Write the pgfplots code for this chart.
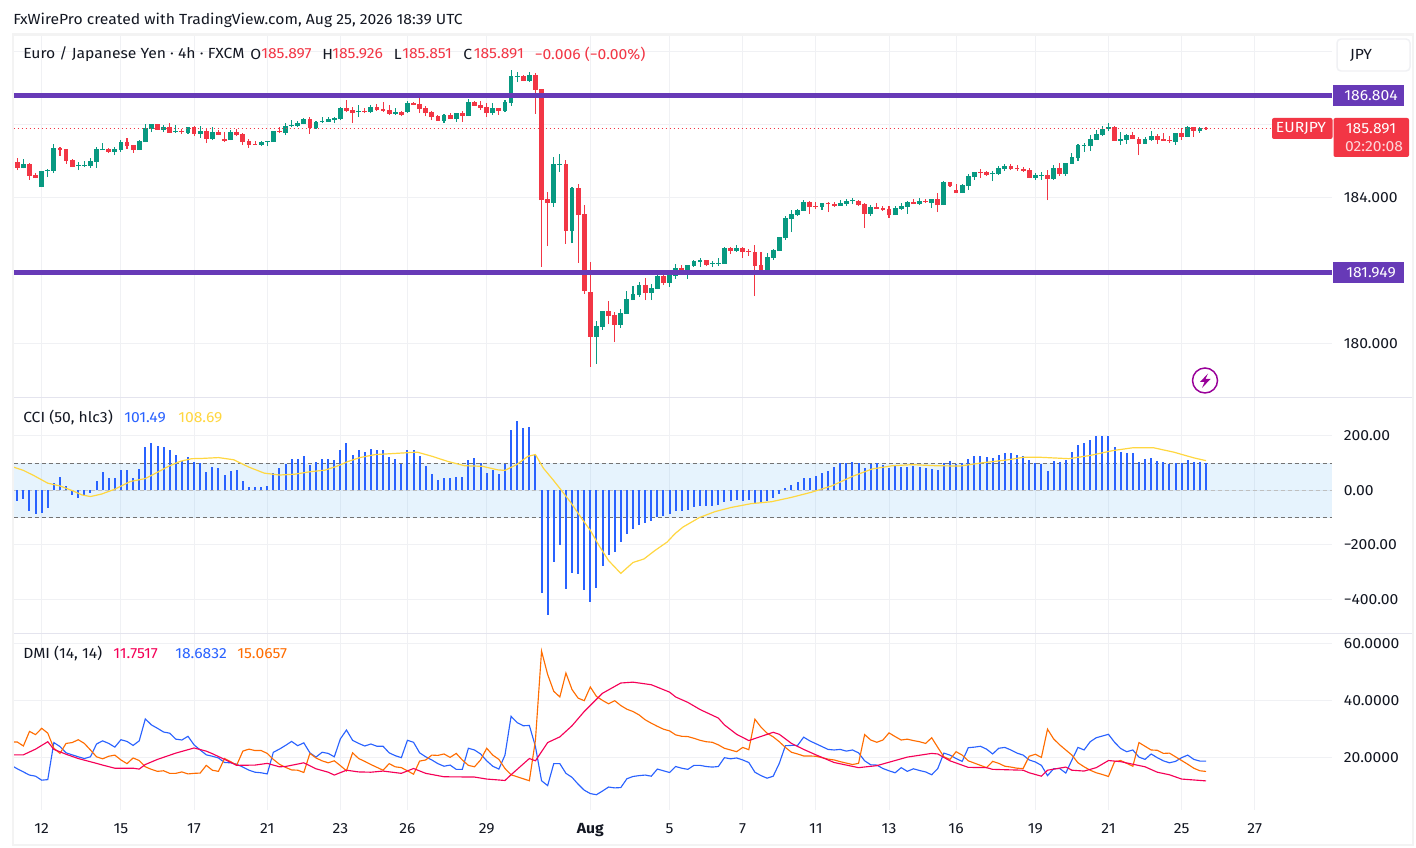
\documentclass[border=0pt]{standalone}
\usepackage{pgfplots}
\usepackage{pgfplotstable}
\usepackage{fontspec}
\pgfplotsset{compat=1.18}
\setmainfont[FakeStretch=1.07]{Fira Sans}
\definecolor{cgreen}{HTML}{089981}
\definecolor{cred}{HTML}{F23645}
\definecolor{cblue}{HTML}{2962FF}
\definecolor{cyel}{HTML}{FFD740}
\definecolor{cpink}{HTML}{F50057}
\definecolor{corange}{HTML}{FF6D00}
\definecolor{cpurple}{HTML}{673AB7}
\definecolor{cgrid}{HTML}{F0F1F4}
\definecolor{csep}{HTML}{E4E4EE}
\definecolor{ctext}{HTML}{131722}
\definecolor{cframe}{HTML}{F3F3F3}
\definecolor{cband}{HTML}{2196F3}
% columns: bar index, low, body low, body high, high
\pgfplotstableread{
i l b t h
1 184.80 184.81 184.92 185.06
4 184.29 184.29 184.73 184.73
5 184.56 184.73 184.76 184.78
6 184.67 184.73 185.36 185.47
10 184.75 184.86 184.89 184.97
11 184.83 184.86 184.89 185.00
12 184.81 184.86 185.00 185.08
13 184.81 184.97 185.33 185.38
14 185.30 185.30 185.33 185.49
16 185.16 185.25 185.33 185.38
17 185.25 185.30 185.52 185.57
20 185.30 185.30 185.55 185.57
21 185.52 185.52 185.90 186.01
22 185.79 185.88 186.01 186.01
24 185.79 185.85 185.93 185.99
26 185.77 185.79 185.82 185.99
28 185.74 185.77 185.93 185.93
30 185.63 185.74 185.82 185.96
32 185.57 185.60 185.79 185.93
35 185.57 185.57 185.79 185.85
40 185.41 185.44 185.52 185.55
41 185.41 185.52 185.55 185.55
42 185.52 185.52 185.82 185.82
44 185.71 185.77 185.96 186.04
45 185.93 185.96 185.99 186.12
46 185.93 185.96 186.04 186.10
47 186.01 186.01 186.15 186.18
49 185.88 185.90 186.07 186.10
50 186.04 186.07 186.10 186.20
51 186.07 186.07 186.15 186.20
52 186.04 186.12 186.18 186.20
53 186.12 186.15 186.45 186.48
56 186.20 186.34 186.37 186.53
58 186.31 186.34 186.48 186.53
62 186.26 186.29 186.34 186.45
64 186.31 186.34 186.59 186.64
70 186.04 186.10 186.26 186.29
72 186.07 186.15 186.31 186.31
74 186.23 186.23 186.62 186.70
78 186.26 186.31 186.45 186.59
80 186.34 186.37 186.62 186.67
81 186.51 186.59 187.33 187.49
82 187.16 187.30 187.33 187.44
84 187.16 187.19 187.36 187.44
88 183.74 183.85 184.92 185.11
89 184.70 184.89 184.92 185.19
91 182.75 183.08 184.26 184.29
95 179.44 180.18 180.48 180.62
96 180.37 180.45 180.89 180.89
99 180.42 180.51 180.84 180.95
100 180.81 180.81 181.22 181.44
101 181.19 181.19 181.36 181.58
102 181.27 181.33 181.60 181.69
104 181.19 181.38 181.52 181.63
105 181.49 181.49 181.85 181.88
107 181.55 181.66 181.93 182.01
108 181.77 181.85 182.07 182.18
110 181.77 181.88 182.15 182.15
111 182.10 182.12 182.26 182.29
112 182.10 182.23 182.29 182.34
114 182.10 182.18 182.21 182.26
115 182.12 182.18 182.21 182.34
116 182.18 182.18 182.62 182.64
118 182.51 182.53 182.62 182.70
123 181.92 181.96 182.37 182.48
124 182.29 182.34 182.56 182.59
125 182.53 182.53 182.92 182.92
126 182.84 182.89 183.44 183.49
127 183.05 183.41 183.55 183.66
128 183.49 183.52 183.66 183.69
129 183.63 183.63 183.88 183.93
132 183.66 183.74 183.85 183.85
135 183.77 183.77 183.85 183.93
136 183.77 183.82 183.90 183.96
137 183.82 183.90 183.93 183.99
140 183.49 183.55 183.74 183.79
144 183.52 183.52 183.71 183.77
145 183.66 183.69 183.77 183.85
146 183.55 183.74 183.88 183.90
148 183.79 183.82 183.90 183.99
150 183.71 183.85 183.96 183.96
152 183.79 183.79 184.42 184.45
155 184.12 184.12 184.34 184.37
156 184.21 184.31 184.59 184.64
157 184.48 184.56 184.70 184.70
160 184.45 184.64 184.67 184.73
161 184.62 184.64 184.81 184.86
162 184.73 184.78 184.86 184.92
167 184.48 184.53 184.62 184.67
168 184.48 184.59 184.62 184.70
170 184.48 184.51 184.81 184.89
172 184.59 184.64 184.94 184.94
173 184.92 184.92 185.11 185.22
174 185.00 185.08 185.44 185.47
175 185.25 185.41 185.44 185.49
176 185.27 185.41 185.60 185.71
177 185.58 185.58 185.74 185.85
178 185.68 185.71 185.88 185.96
179 185.82 185.88 185.93 186.04
181 185.44 185.55 185.60 185.79
182 185.47 185.58 185.71 185.74
185 185.47 185.47 185.60 185.66
186 185.55 185.58 185.68 185.82
190 185.44 185.52 185.77 185.77
192 185.66 185.66 185.93 185.96
194 185.77 185.82 185.90 185.93
}\greenT
\pgfplotstableread{
i l b t h
0 184.75 184.81 184.97 185.07
2 184.48 184.59 184.92 184.94
3 184.53 184.53 184.62 184.67
7 185.14 185.30 185.36 185.38
8 184.92 185.00 185.33 185.33
9 184.83 184.83 185.03 185.06
15 185.22 185.25 185.33 185.36
18 185.33 185.41 185.52 185.63
19 185.22 185.30 185.44 185.44
23 185.85 185.85 186.01 186.01
25 185.77 185.77 185.93 186.04
27 185.74 185.79 185.82 185.88
29 185.68 185.74 185.93 185.96
31 185.49 185.60 185.82 185.88
33 185.71 185.71 185.79 185.85
34 185.52 185.55 185.60 185.79
36 185.68 185.71 185.79 185.88
37 185.44 185.52 185.74 185.77
38 185.36 185.44 185.55 185.60
39 185.44 185.44 185.47 185.55
43 185.77 185.79 185.82 185.93
48 185.74 185.90 186.15 186.20
54 186.34 186.37 186.45 186.67
55 186.04 186.31 186.40 186.48
57 186.31 186.34 186.37 186.45
59 186.37 186.40 186.48 186.56
60 186.34 186.37 186.42 186.62
61 186.26 186.29 186.40 186.53
63 186.23 186.26 186.34 186.37
65 186.53 186.53 186.59 186.62
66 186.31 186.42 186.56 186.73
67 186.23 186.31 186.45 186.51
68 186.12 186.20 186.34 186.37
69 186.10 186.10 186.23 186.26
71 186.15 186.15 186.26 186.31
73 186.07 186.23 186.31 186.37
75 186.51 186.51 186.62 186.64
76 186.40 186.45 186.53 186.64
77 186.20 186.31 186.48 186.59
79 186.26 186.37 186.45 186.45
83 187.19 187.19 187.33 187.36
85 186.29 186.95 187.36 187.41
86 182.10 183.93 186.97 186.97
87 182.67 183.85 183.96 184.15
90 182.73 183.08 184.92 185.03
92 182.21 183.52 184.26 184.37
93 181.36 181.44 183.55 183.79
94 179.36 180.18 181.41 182.23
97 180.53 180.75 180.89 181.17
98 180.04 180.51 180.78 180.86
103 181.19 181.38 181.60 181.79
106 181.60 181.66 181.85 181.88
109 181.88 181.96 182.07 182.15
113 182.12 182.15 182.29 182.29
117 182.45 182.53 182.62 182.64
119 182.34 182.51 182.62 182.64
120 182.40 182.51 182.53 182.59
121 181.30 182.12 182.51 182.70
122 181.92 181.92 182.15 182.51
130 183.55 183.74 183.88 183.90
131 183.69 183.74 183.77 183.88
133 183.60 183.82 183.85 183.88
134 183.74 183.77 183.82 183.88
138 183.77 183.79 183.90 183.93
139 183.17 183.55 183.82 183.85
141 183.69 183.69 183.74 183.85
142 183.63 183.66 183.71 183.77
143 183.44 183.52 183.69 183.77
147 183.82 183.82 183.88 183.96
149 183.85 183.88 183.90 183.96
151 183.60 183.79 183.96 184.12
153 184.29 184.31 184.42 184.42
154 184.12 184.12 184.21 184.37
158 184.53 184.67 184.70 184.78
159 184.59 184.62 184.70 184.73
163 184.75 184.78 184.86 184.92
164 184.73 184.78 184.81 184.89
165 184.70 184.73 184.78 184.83
166 184.53 184.53 184.75 184.81
169 183.93 184.51 184.62 184.75
171 184.59 184.64 184.81 184.94
180 185.55 185.55 185.93 185.96
183 185.60 185.60 185.71 185.79
184 185.16 185.47 185.60 185.66
187 185.47 185.58 185.68 185.74
188 185.55 185.55 185.60 185.77
189 185.49 185.55 185.58 185.68
191 185.58 185.66 185.77 185.90
193 185.66 185.82 185.93 185.93
195 185.851 185.885 185.897 185.926
}\redT
\pgfplotsset{
  tvpane/.style={
    scale only axis, width=988.875pt, xmin=-0.623, xmax=215.67,
    xmajorgrids, ymajorgrids, grid style={cgrid, line width=0.75pt},
    axis line style={draw=none}, tick style={draw=none},
    xtick={4,17,29,41,53,64,77,94,107,119,131,143,154,167,179,191,203},
    xticklabels={},
    yticklabel pos=right,
    yticklabel style={anchor=west, font=\fontsize{11pt}{12pt}\selectfont, text=ctext, xshift=5.4pt},
    /pgf/number format/assume math mode=true,
    anchor=south west, clip=true,
  },
  wick/.style={draw=none, mark=none, forget plot, error bars/.cd, y dir=plus, y explicit, error mark=none, error bar style={draw=#1, line width=0.8pt}},
  body/.style={draw=none, mark=none, forget plot, error bars/.cd, y dir=plus, y explicit, error mark=none, error bar style={draw=#1, line width=3.6pt}},
}
\begin{document}
\begin{tikzpicture}
\path[use as bounding box, fill=white] (0,0) rectangle (1062pt,636pt);
% ---------- price pane
\begin{axis}[tvpane, at={(10.125pt,338.25pt)}, height=271.5pt,
  ymin=178.534, ymax=188.452,
  ytick={180,182,184,186,188}, yticklabels={180.000,,184.000,,}]
\addplot[wick=cgreen] table[x=i, y=l, y error plus expr=\thisrow{h}-\thisrow{l}] {\greenT};
\addplot[wick=cred] table[x=i, y=l, y error plus expr=\thisrow{h}-\thisrow{l}] {\redT};
\addplot[body=cgreen] table[x=i, y=b, y error plus expr=\thisrow{t}-\thisrow{b}] {\greenT};
\addplot[body=cred] table[x=i, y=b, y error plus expr=\thisrow{t}-\thisrow{b}] {\redT};
\addplot[cred, line width=0.75pt, dash pattern=on 0.75pt off 2.25pt, forget plot] coordinates {(-0.623,185.891) (205.7,185.891)};
\addplot[cpurple, line width=3.75pt, forget plot] coordinates {(-0.623,186.804) (215.67,186.804)};
\addplot[cpurple, line width=3.75pt, forget plot] coordinates {(-0.623,181.949) (215.67,181.949)};
\end{axis}
% ---------- CCI pane
\begin{axis}[tvpane, at={(10.125pt,161.25pt)}, height=176.25pt,
  ymin=-523.7, ymax=338.7,
  ytick={-400,-200,0,200}, yticklabels={−400.00,−200.00,0.00,200.00}]
\addplot[fill=cband, fill opacity=0.11, draw=none, forget plot] coordinates {(-0.623,-100) (215.67,-100) (215.67,100) (-0.623,100)} -- cycle;
\addplot[color=black!55, line width=0.75pt, dash pattern=on 3pt off 2.25pt, forget plot] coordinates {(-0.623,100) (215.67,100)};
\addplot[color=black!55, line width=0.75pt, dash pattern=on 3pt off 2.25pt, forget plot] coordinates {(-0.623,-100) (215.67,-100)};
\addplot[color=black!25, line width=0.75pt, dash pattern=on 3pt off 2.25pt, forget plot] coordinates {(-0.623,0) (215.67,0)};
\addplot[ycomb, cblue, line width=1.5pt, mark=none, forget plot] coordinates {
(0,-38)(1,-32)(2,-77)(3,-88)(4,-84)(5,-65)(6,27)(7,49)(8,16)(9,-17)(10,-28)(11,-17)(12,-10)(13,35)(14,68)(15,46)(16,46)(17,75)(18,75)(19,46)
(20,79)(21,157)(22,175)(23,164)(24,157)(25,146)(26,131)(27,109)(28,123)(29,105)(30,101)(31,68)(32,86)(33,83)(34,57)(35,72)(36,75)(37,35)(38,12)(39,12)
(40,12)(41,16)(42,64)(43,83)(44,98)(45,116)(46,116)(47,127)(48,94)(49,105)(50,116)(51,116)(52,112)(53,149)(54,172)(55,131)(56,146)(57,142)(58,153)(59,149)
(60,149)(61,123)(62,116)(63,98)(64,146)(65,149)(66,127)(67,90)(68,60)(69,38)(70,46)(71,46)(72,49)(73,49)(74,112)(75,120)(76,101)(77,64)(78,75)(79,60)
(80,98)(81,223)(82,253)(83,227)(84,231)(85,131)(86,-377)(87,-458)(88,-265)(89,-199)(90,-362)(91,-302)(92,-306)(93,-365)(94,-410)(95,-358)
(96,-277)(97,-236)(98,-225)(99,-191)(100,-162)(101,-143)(102,-128)(103,-121)(104,-114)(105,-99)(106,-95)(107,-88)(108,-77)(109,-77)(110,-73)(111,-62)(112,-58)(113,-58)(114,-58)(115,-54)
(116,-43)(117,-40)(118,-36)(119,-40)(120,-36)(121,-47)(122,-43)(123,-40)(124,-28)(125,-14)(126,9)(127,20)(128,31)(129,46)(130,46)(131,53)(132,64)(133,72)(134,86)(135,101)
(136,101)(137,105)(138,101)(139,83)(140,98)(141,101)(142,94)(143,83)(144,90)(145,86)(146,86)(147,90)(148,86)(149,83)(150,79)(151,75)(152,101)(153,109)(154,98)(155,101)
(156,116)(157,127)(158,127)(159,123)(160,120)(161,131)(162,138)(163,135)(164,131)(165,127)(166,112)(167,101)(168,98)(169,72)(170,109)(171,105)(172,112)(173,142)(174,168)(175,172)
(176,183)(177,198)(178,198)(179,198)(180,157)(181,142)(182,138)(183,135)(184,105)(185,116)(186,120)(187,109)(188,105)(189,98)(190,101)(191,101)(192,112)(193,105)(194,105)(195,101.49)
};
\addplot[cyel, line width=0.9pt, forget plot] coordinates {
(-0.6,85)(1,73)(2.8,53)(5,26)(7,16)(9,-1)(10.6,-17)(12,-23)(13.8,-14)(16,4)(18.5,32)(21,43)(22.9,65)(24.8,88)(26.7,106)(28.6,116)(30.4,117)(33,120)(35.5,112)(38,85)(40.5,63)(43,56)(45.5,59)(48,68)(50.5,74)(52.4,88)(54.3,106)(56.2,120)(58.7,131)(61.8,135)(65.6,140)(68,125)(70.6,106)(73.4,90)(76.3,88)(78.8,75)(80,73)(81.9,94)(83.8,125)(85,131)(86.3,81)(87.9,38)(89,7)(90.7,-42)(92.6,-104)(94,-147)(95.4,-202)(97,-258)(99,-305)(101,-265)(102.8,-252)(104.6,-221)(106.6,-190)(107.9,-159)(109.2,-135)(111.9,-100)(114.5,-78)(117.1,-63)(120.4,-49)(123.7,-42)(127,-26)(130.3,-7)(133.6,16)(137,51)(140.2,78)(143.5,90)(146.8,94)(150.8,90)(154.7,89)(158,100)(162.6,112)(165,121)(167.9,121)(172.5,116)(175.8,127)(179.8,146)(183,156)(186.4,156)(189.7,140)(193,119)(195,108.69)
};
\end{axis}
% ---------- DMI pane
\begin{axis}[tvpane, at={(10.125pt,28.5pt)}, height=132pt,
  ymin=1.54, ymax=63.3,
  ytick={20,40,60}, yticklabels={20.0000,40.0000,60.0000},
  xticklabels={12,15,17,21,23,26,29,\textbf{Aug},5,7,11,13,16,19,21,25,27},
  xticklabel style={font=\fontsize{11pt}{12pt}\selectfont, text=ctext, yshift=-6.5pt}]
\addplot[cblue, line width=0.85pt, forget plot] coordinates {
(-1,17.2)(0,16.0)(1,14.9)(2,13.8)(3,13.4)(4,12.0)(5,12.2)(6,25.2)(7,23.8)(8,21.6)(10,20.2)(11,19.6)(12,20.2)(13,24.7)(14,25.8)(15,24.9)(16,23.6)(17,26.2)(18,25.6)(19,24.2)(20,25.8)(21,33.5)(22,31.4)(23,30.2)(24,28.9)(25,28.5)(26,26.4)(27,26.1)(28,27.4)(29,24.4)(30,22.6)(31,20.9)(32,20.4)(33,19.8)(34,18.2)(35,18.1)(36,17.6)(37,16.6)(38,15.5)(39,14.8)(40,14.6)(41,14.2)(42,21.8)(43,22.9)(44,24.2)(45,25.6)(46,24.1)(47,25.1)(48,21.6)(49,20.1)(50,21.8)(51,21.4)(52,20.2)(53,26.5)(54,29.6)(55,26.0)(56,24.9)(57,24.0)(58,24.7)(59,23.9)(60,23.9)(61,21.6)(62,20.6)(63,19.9)(64,26.0)(65,25.3)(66,21.6)(67,20.2)(68,19.1)(69,17.8)(70,16.9)(71,17.3)(72,15.8)(73,15.8)(74,23.2)(75,22.6)(76,21.2)(77,18.8)(78,16.9)(79,15.9)(80,20.8)(81,34.4)(82,32.2)(83,31.1)(84,31.2)(85,23.8)(86,11.8)(87,10.1)(88,17.8)(89,17.8)(90,14.4)(91,13.0)(92,10.6)(93,8.5)(94,7.3)(95,6.9)(96,8.2)(97,9.6)(98,9.3)(99,9.4)(100,12.5)(101,13.3)(102,13.6)(103,13.8)(104,13.4)(105,15.9)(106,15.3)(107,14.7)(108,16.8)(109,16.2)(110,15.8)(111,17.2)(112,17.2)(113,16.8)(114,16.6)(115,16.8)(116,19.9)(117,19.5)(118,19.8)(119,19.1)(120,18.2)(121,14.8)(122,13.6)(123,12.7)(124,13.4)(125,17.9)(126,24.1)(127,24.2)(128,24.2)(129,27.1)(130,25.8)(131,24.8)(132,23.8)(133,22.8)(134,22.6)(135,22.8)(136,22.2)(137,22.6)(138,21.6)(139,18.8)(140,17.4)(141,17.3)(142,16.1)(143,15.3)(144,14.6)(145,16.4)(146,15.1)(147,16.0)(148,15.4)(149,14.9)(150,13.9)(151,16.1)(152,21.5)(153,20.8)(154,19.6)(155,18.6)(156,23.4)(157,23.6)(158,23.9)(159,22.9)(160,21.2)(161,23.2)(162,23.5)(163,22.6)(164,21.5)(165,20.8)(166,19.1)(167,18.4)(168,17.2)(169,13.6)(170,16.0)(171,16.1)(172,14.5)(173,19.1)(174,23.5)(175,22.6)(176,25.5)(177,26.9)(178,27.5)(179,28.1)(180,25.3)(181,23.1)(182,22.0)(183,22.6)(184,20.1)(185,19.3)(186,21.2)(187,19.9)(188,18.8)(189,18.1)(190,18.6)(191,19.9)(192,20.8)(193,19.3)(194,18.7)(195,18.68)
};
\addplot[corange, line width=0.85pt, forget plot] coordinates {
(-1,25.4)(0,25.4)(1,24.0)(2,29.1)(3,28.0)(4,30.2)(5,28.5)(6,23.2)(7,21.4)(8,24.9)(9,25.2)(10,26.2)(11,24.9)(12,22.6)(13,20.2)(14,19.5)(15,20.4)(16,20.8)(17,19.1)(18,17.8)(19,19.8)(20,18.9)(21,16.7)(22,15.8)(23,15.1)(24,15.3)(25,14.4)(26,14.4)(27,14.9)(28,14.2)(29,14.4)(30,14.5)(31,17.2)(32,15.5)(33,15.1)(34,19.6)(35,18.5)(36,17.3)(37,22.2)(38,22.9)(39,22.4)(40,22.4)(41,21.4)(42,19.3)(43,17.6)(44,16.5)(45,15.6)(46,15.5)(47,14.7)(48,21.4)(49,19.8)(50,18.8)(51,18.1)(52,18.8)(53,17.1)(54,15.3)(55,21.6)(56,19.6)(57,18.6)(58,17.5)(59,16.5)(60,15.5)(61,17.8)(62,16.7)(63,16.4)(64,15.3)(65,14.1)(66,18.7)(67,19.1)(68,20.8)(69,20.7)(70,21.2)(71,20.0)(72,21.4)(73,19.1)(74,17.2)(75,16.7)(76,19.1)(77,23.2)(78,20.8)(79,19.3)(80,16.1)(81,13.9)(82,13.2)(83,12.5)(84,11.8)(85,26.1)(86,57.3)(87,49.1)(88,43.2)(89,41.2)(90,49.6)(91,43.8)(92,40.8)(93,39.9)(94,44.7)(95,41.4)(96,40.0)(97,38.8)(98,39.9)(99,38.2)(100,36.9)(101,36.1)(102,34.9)(103,33.2)(104,32.0)(105,30.9)(106,29.9)(107,29.3)(108,27.9)(109,27.4)(110,27.3)(111,26.7)(112,26.0)(113,25.5)(114,25.3)(115,24.4)(116,23.2)(117,22.6)(118,22.0)(119,23.5)(120,22.7)(121,33.4)(122,30.6)(123,28.5)(124,27.2)(125,25.5)(126,23.5)(127,21.8)(128,21.2)(129,20.5)(130,20.5)(131,20.4)(132,19.9)(133,19.4)(134,19.1)(135,18.5)(136,18.0)(137,17.5)(138,17.9)(139,28.0)(140,26.1)(141,25.3)(142,26.1)(143,28.6)(144,27.3)(145,26.1)(146,26.4)(147,25.9)(148,25.5)(149,24.9)(150,26.9)(151,23.5)(152,20.2)(153,19.3)(154,22.0)(155,20.8)(156,18.8)(157,18.0)(158,17.2)(159,16.4)(160,18.6)(161,17.9)(162,16.9)(163,16.6)(164,16.2)(165,16.1)(166,20.4)(167,21.1)(168,20.0)(169,29.9)(170,26.5)(171,24.4)(172,22.6)(173,20.8)(174,18.1)(175,16.7)(176,15.5)(177,14.6)(178,14.0)(179,13.3)(180,18.5)(181,18.9)(182,17.9)(183,16.9)(184,25.2)(185,23.9)(186,22.6)(187,22.5)(188,21.4)(189,21.5)(190,20.2)(191,18.9)(192,17.6)(193,16.2)(194,15.3)(195,15.07)
};
\addplot[cpink, line width=0.85pt, forget plot] coordinates {
(-1,20.9)(1,20.9)(3,22.9)(5,25.5)(6,22.8)(8,21.1)(10,19.6)(13,17.9)(14,17.3)(16,16.2)(19,16.2)(20,15.9)(21,17.5)(23,19.3)(26,21.5)(28,22.7)(29,23.3)(31,22.2)(32,21.3)(34,19.3)(36,17.2)(39,17.3)(41,17.9)(43,16.7)(44,16.8)(47,18.1)(49,16.0)(51,14.8)(52,13.8)(54,15.5)(56,14.9)(58,14.8)(60,15.2)(63,14.4)(65,16.1)(67,14.4)(70,13.2)(75,13.1)(77,12.4)(80,11.9)(81,13.9)(84,19.6)(85,18.8)(87,25.2)(89,27.2)(91,31.1)(93,36.1)(96,42.5)(99,46.1)(101,46.4)(104,45.5)(107,42.9)(108,41.2)(110,39.3)(112,36.8)(115,33.8)(116,31.4)(118,28.1)(120,25.9)(124,28.8)(125,28.1)(127,24.9)(129,22.8)(131,20.9)(134,18.2)(138,16.4)(141,17.1)(144,18.9)(146,20.1)(150,21.4)(151,21.2)(153,18.8)(156,16.5)(159,16.4)(160,15.8)(165,15.5)(166,14.6)(168,13.4)(169,15.5)(172,16.6)(173,15.5)(175,15.2)(177,16.4)(179,18.9)(181,18.5)(185,16.7)(187,14.8)(189,13.9)(191,12.4)(195,11.75)
};
\end{axis}
% ---------- chrome, drawn in reference pixels
\begin{scope}[shift={(0,636pt)}, x=0.75pt, y=-0.75pt, font=\fontsize{11pt}{12pt}\selectfont, text=ctext]
\draw[cframe, line width=1.8pt] (13,34.5) rectangle (1413,845);
\draw[csep, line width=0.75pt] (14,397.5) -- (1412,397.5);
\draw[csep, line width=0.75pt] (14,633.5) -- (1412,633.5);
\node[anchor=west, inner sep=0pt] at (13,20) {FxWirePro created with TradingView.com, Aug 25, 2026 18:39 UTC};
\node[anchor=west, inner sep=0pt] at (23,54) {Euro / Japanese Yen · 4h · FXCM};
\node[anchor=west, inner sep=0pt] at (250,54) {O};
\node[anchor=west, inner sep=0pt, text=cred] at (261,54) {185.897};
\node[anchor=west, inner sep=0pt] at (322,54) {H};
\node[anchor=west, inner sep=0pt, text=cred] at (332,54) {185.926};
\node[anchor=west, inner sep=0pt] at (393.5,54) {L};
\node[anchor=west, inner sep=0pt, text=cred] at (402,54) {185.851};
\node[anchor=west, inner sep=0pt] at (463,54) {C};
\node[anchor=west, inner sep=0pt, text=cred] at (473.5,54) {185.891};
\node[anchor=west, inner sep=0pt, text=cred] at (534.5,54) {−0.006 (−0.00\%)};
\node[anchor=west, inner sep=0pt] at (23,418) {CCI (50, hlc3)};
\node[anchor=west, inner sep=0pt, text=cblue] at (124,418) {101.49};
\node[anchor=west, inner sep=0pt, text=cyel] at (178,418) {108.69};
\node[anchor=west, inner sep=0pt] at (23,654) {DMI (14, 14)};
\node[anchor=west, inner sep=0pt, text=cpink] at (113,654) {11.7517};
\node[anchor=west, inner sep=0pt, text=cblue] at (175,654) {18.6832};
\node[anchor=west, inner sep=0pt, text=corange] at (237,654) {15.0657};
% price tags
\fill[cpurple] (1333,85) rectangle (1404,106);
\node[text=white] at (1371,96) {186.804};
\fill[cpurple] (1333,262) rectangle (1404,283);
\node[text=white] at (1371,273) {181.949};
\fill[cred, rounded corners=1.5pt] (1272,118) rectangle (1332.5,139);
\node[text=white] at (1301,128.5) {EURJPY};
\fill[cred, rounded corners=1.5pt] (1333.5,118) rectangle (1409,157);
\node[text=white] at (1371,128.5) {185.891};
\node[text=white, opacity=0.8] at (1374,147) {02:20:08};
% currency button
\draw[cgrid, line width=1.1pt, fill=white, rounded corners=3pt] (1337,39) rectangle (1410,71);
\node at (1361,55) {JPY};
% lightning badge
\draw[violet!80!magenta, line width=1.1pt] (1205,380.5) circle (12.5);
\fill[violet!80!magenta] (1208,373.5) -- (1200,382) -- (1204.5,382) -- (1202,388) -- (1210.5,379) -- (1205.5,379) -- cycle;
\end{scope}
\end{tikzpicture}
\end{document}
